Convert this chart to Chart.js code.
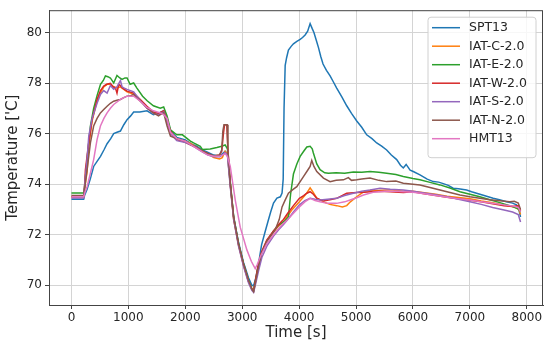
<!DOCTYPE html>
<html>
<head>
<meta charset="utf-8">
<script src="https://cdn.jsdelivr.net/npm/chart.js@4.4.0/dist/chart.umd.min.js"></script>
<style>
  html, body { margin: 0; padding: 0; background: #fff; }
</style>
</head>
<body>
<canvas id="chart" width="550" height="348"></canvas>
<script>
// ── data (time [s], temperature [°C]) ──
const seriesNames = ['SPT13', 'IAT-C-2.0', 'IAT-E-2.0', 'IAT-W-2.0', 'IAT-S-2.0', 'IAT-N-2.0', 'HMT13'];
const xTicks = [0, 1000, 2000, 3000, 4000, 5000, 6000, 7000, 8000];
const yTicks = [70, 72, 74, 76, 78, 80];

const spt13 = [[0,73.4],[215,73.4],[230,73.55],[275,73.8],[330,74.2],[390,74.7],[450,74.9],[510,75.1],[570,75.35],[626,75.6],[690,75.8],[742,76.0],[800,76.05],[860,76.1],[920,76.35],[977,76.55],[1040,76.7],[1093,76.85],[1200,76.85],[1327,76.9],[1440,76.75],[1520,76.8],[1620,76.9],[1680,76.6],[1740,76.1],[1850,75.85],[2000,75.75],[2100,75.6],[2200,75.5],[2300,75.35],[2400,75.25],[2500,75.15],[2600,75.1],[2650,75.2],[2700,75.3],[2740,75.2],[2790,74.0],[2850,72.7],[2935,71.7],[3023,70.9],[3110,70.3],[3170,70.0],[3200,69.98],[3240,70.3],[3290,70.9],[3340,71.6],[3400,72.1],[3450,72.5],[3500,72.9],[3550,73.25],[3610,73.45],[3670,73.5],[3700,73.65],[3720,74.2],[3735,77.0],[3755,78.7],[3780,79.0],[3812,79.3],[3860,79.45],[3900,79.55],[3960,79.65],[4018,79.73],[4060,79.8],[4105,79.9],[4150,80.05],[4193,80.35],[4230,80.15],[4260,80.0],[4300,79.7],[4340,79.4],[4380,79.05],[4420,78.75],[4480,78.5],[4544,78.28],[4600,78.05],[4660,77.8],[4750,77.45],[4836,77.1],[4920,76.8],[5012,76.5],[5100,76.25],[5187,75.95],[5280,75.8],[5363,75.63],[5450,75.5],[5538,75.35],[5620,75.15],[5714,74.97],[5780,74.75],[5830,74.64],[5880,74.78],[5950,74.55],[6005,74.5],[6123,74.37],[6250,74.2],[6356,74.1],[6450,74.08],[6532,74.02],[6620,73.95],[6707,73.84],[6800,73.82],[6942,73.77],[7030,73.7],[7117,73.64],[7250,73.55],[7409,73.44],[7520,73.38],[7644,73.3],[7750,73.25],[7819,73.18],[7860,73.0],[7890,72.7]];

const iatC = [[0,73.5],[215,73.5],[230,73.8],[275,74.5],[304,75.5],[363,76.5],[450,77.3],[510,77.6],[567,77.85],[626,77.95],[684,77.95],[742,77.85],[800,77.8],[860,77.85],[920,77.75],[977,77.65],[1093,77.55],[1210,77.3],[1327,77.05],[1440,76.8],[1540,76.75],[1620,76.85],[1680,76.5],[1740,76.05],[1850,75.8],[2000,75.7],[2100,75.6],[2200,75.45],[2300,75.3],[2400,75.2],[2500,75.05],[2600,75.0],[2650,75.05],[2700,75.3],[2740,75.2],[2790,74.0],[2850,72.6],[2935,71.6],[3023,70.8],[3110,70.15],[3170,69.85],[3200,69.8],[3240,70.2],[3290,70.8],[3345,71.3],[3433,71.75],[3550,72.1],[3640,72.35],[3725,72.5],[3800,72.75],[3880,73.0],[4005,73.3],[4080,73.5],[4135,73.65],[4193,73.85],[4240,73.7],[4310,73.45],[4427,73.3],[4540,73.2],[4660,73.15],[4760,73.1],[4836,73.15],[4900,73.3],[4953,73.4],[5070,73.6],[5150,73.72],[5246,73.75],[5400,73.75],[5600,73.78],[5830,73.72],[6000,73.72],[6200,73.66],[6400,73.6],[6600,73.52],[6800,73.47],[7000,73.42],[7200,73.33],[7400,73.26],[7600,73.18],[7750,73.12],[7860,73.0],[7890,72.8]];

const iatE = [[0,73.65],[215,73.65],[230,73.9],[275,75.0],[333,76.3],[390,77.0],[450,77.5],[510,77.95],[560,78.1],[597,78.28],[640,78.25],[684,78.2],[742,78.0],[800,78.3],[850,78.2],[889,78.14],[940,78.2],[977,78.2],[1030,77.95],[1093,78.0],[1150,77.8],[1250,77.48],[1330,77.3],[1440,77.1],[1500,77.05],[1560,77.0],[1620,77.05],[1680,76.7],[1740,76.15],[1850,75.95],[1950,75.95],[2090,75.7],[2146,75.63],[2263,75.5],[2300,75.37],[2438,75.39],[2555,75.45],[2640,75.5],[2700,75.55],[2740,75.4],[2790,74.1],[2850,72.7],[2935,71.65],[3023,70.85],[3110,70.2],[3170,69.85],[3200,69.78],[3240,70.25],[3290,70.85],[3345,71.3],[3433,71.75],[3550,72.15],[3650,72.4],[3750,72.55],[3812,72.7],[3850,73.6],[3900,74.4],[3960,74.8],[4018,75.1],[4080,75.3],[4135,75.47],[4193,75.5],[4230,75.4],[4250,75.23],[4310,74.8],[4368,74.57],[4450,74.45],[4514,74.43],[4650,74.45],[4800,74.43],[4953,74.48],[5100,74.47],[5246,74.5],[5400,74.47],[5538,74.43],[5700,74.38],[5830,74.3],[6000,74.22],[6123,74.17],[6300,74.07],[6474,73.97],[6650,73.85],[6825,73.7],[7000,73.6],[7175,73.5],[7350,73.38],[7526,73.27],[7700,73.15],[7819,73.05],[7860,73.0],[7890,72.9]];

const iatW = [[0,73.5],[215,73.5],[230,73.9],[245,74.57],[304,75.63],[363,76.56],[450,77.35],[510,77.7],[567,77.88],[620,77.95],[684,77.99],[730,77.85],[772,77.81],[800,77.6],[830,77.95],[860,77.9],[889,77.81],[930,77.75],[977,77.68],[1093,77.6],[1210,77.35],[1327,77.08],[1440,76.85],[1530,76.8],[1620,76.9],[1680,76.55],[1737,76.1],[1850,75.76],[1950,75.7],[2090,75.56],[2200,75.45],[2300,75.3],[2400,75.2],[2500,75.1],[2600,75.15],[2640,75.3],[2670,76.0],[2690,76.35],[2730,76.35],[2745,75.5],[2790,74.0],[2850,72.65],[2935,71.6],[3023,70.8],[3110,70.15],[3170,69.85],[3200,69.78],[3240,70.3],[3290,70.9],[3345,71.35],[3433,71.8],[3550,72.15],[3640,72.4],[3725,72.6],[3800,72.85],[3900,73.15],[4005,73.44],[4080,73.55],[4135,73.64],[4193,73.7],[4250,73.6],[4310,73.44],[4427,73.33],[4540,73.38],[4660,73.44],[4760,73.55],[4836,73.64],[5012,73.67],[5150,73.68],[5246,73.7],[5400,73.72],[5600,73.7],[5830,73.67],[6000,73.7],[6200,73.62],[6400,73.55],[6600,73.48],[6800,73.42],[7000,73.36],[7200,73.3],[7400,73.22],[7600,73.15],[7750,73.12],[7850,73.15],[7890,72.95]];

const iatS = [[0,73.45],[215,73.45],[230,73.9],[275,75.0],[304,75.9],[363,76.6],[450,77.2],[509,77.55],[567,77.7],[626,77.6],[684,77.9],[742,77.75],[800,77.85],[860,78.1],[889,77.85],[930,77.8],[977,77.75],[1093,77.65],[1210,77.3],[1327,77.0],[1440,76.8],[1530,76.75],[1620,76.85],[1680,76.5],[1740,76.0],[1850,75.72],[2000,75.65],[2100,75.55],[2200,75.42],[2300,75.28],[2400,75.15],[2500,75.08],[2600,75.08],[2650,75.15],[2700,75.25],[2740,75.15],[2790,73.9],[2850,72.6],[2935,71.55],[3023,70.75],[3110,70.1],[3170,69.8],[3200,69.72],[3240,70.1],[3290,70.6],[3345,71.1],[3433,71.55],[3550,71.95],[3640,72.2],[3725,72.4],[3800,72.6],[3900,72.9],[4005,73.18],[4100,73.35],[4193,73.44],[4280,73.4],[4368,73.37],[4500,73.4],[4660,73.44],[4800,73.55],[4953,73.64],[5100,73.72],[5246,73.77],[5420,73.84],[5600,73.8],[5830,73.77],[6000,73.72],[6200,73.65],[6400,73.58],[6600,73.5],[6800,73.4],[7000,73.3],[7200,73.2],[7400,73.08],[7600,72.98],[7750,72.9],[7850,72.8],[7890,72.5]];

const iatN = [[0,73.55],[215,73.55],[230,73.8],[275,74.57],[333,75.63],[390,76.3],[450,76.6],[509,76.82],[567,76.95],[626,77.08],[684,77.2],[742,77.28],[800,77.32],[860,77.35],[920,77.42],[977,77.48],[1040,77.5],[1093,77.55],[1150,77.41],[1250,77.2],[1330,77.0],[1440,76.82],[1530,76.7],[1561,76.75],[1620,76.82],[1680,76.3],[1740,75.9],[1850,75.8],[2000,75.7],[2100,75.55],[2200,75.45],[2300,75.3],[2400,75.2],[2500,75.12],[2600,75.15],[2640,75.35],[2660,76.1],[2680,76.35],[2735,76.35],[2750,75.3],[2790,74.05],[2850,72.7],[2935,71.65],[3023,70.85],[3110,70.2],[3170,69.85],[3200,69.75],[3240,70.2],[3290,70.8],[3345,71.3],[3433,71.75],[3500,71.95],[3580,72.2],[3650,72.6],[3700,73.1],[3750,73.35],[3812,73.64],[3900,73.8],[3959,73.9],[4076,74.3],[4150,74.55],[4193,74.7],[4222,74.94],[4260,74.7],[4310,74.5],[4427,74.24],[4544,74.1],[4650,74.15],[4778,74.17],[4865,74.26],[4920,74.15],[5012,74.17],[5100,74.2],[5246,74.24],[5400,74.15],[5538,74.1],[5700,74.12],[5830,74.04],[6000,74.0],[6123,73.97],[6300,73.87],[6474,73.77],[6650,73.67],[6825,73.57],[7000,73.5],[7175,73.44],[7350,73.38],[7526,73.34],[7700,73.3],[7780,73.32],[7850,73.25],[7890,73.0]];

const hmt13 = [[0,73.5],[215,73.5],[240,73.7],[275,73.9],[330,74.4],[390,74.97],[450,75.76],[509,76.3],[570,76.6],[626,76.82],[684,77.0],[742,77.15],[800,77.25],[860,77.35],[920,77.42],[977,77.48],[1093,77.48],[1210,77.28],[1320,77.05],[1440,76.9],[1561,76.82],[1620,76.75],[1680,76.6],[1740,76.05],[1850,75.8],[2000,75.7],[2100,75.55],[2200,75.42],[2300,75.28],[2400,75.15],[2500,75.1],[2600,75.1],[2650,75.15],[2700,75.2],[2740,75.1],[2790,74.7],[2877,73.38],[2965,72.3],[3082,71.4],[3160,70.95],[3228,70.66],[3260,70.8],[3316,71.12],[3433,71.65],[3550,72.0],[3640,72.25],[3725,72.45],[3800,72.6],[3900,72.85],[4005,73.1],[4100,73.3],[4193,73.44],[4280,73.35],[4368,73.3],[4500,73.24],[4660,73.24],[4800,73.3],[4895,73.37],[5000,73.45],[5130,73.57],[5300,73.68],[5500,73.72],[5700,73.72],[5830,73.7],[6000,73.68],[6200,73.62],[6400,73.55],[6600,73.48],[6800,73.42],[7000,73.37],[7200,73.3],[7400,73.24],[7600,73.18],[7750,73.14],[7850,73.08],[7890,72.9]];

const seriesData = [spt13, iatC, iatE, iatW, iatS, iatN, hmt13];
const seriesColors = ['#1f77b4', '#ff7f0e', '#2ca02c', '#d62728', '#9467bd', '#8c564b', '#e377c2'];

const FONT = "'DejaVu Sans', sans-serif";
const INK = '#262626';

// top + right spines (chart.js only draws left/bottom)
const frame = {
  id: 'frame',
  afterDatasetsDraw(chart) {
    const { ctx, chartArea: a } = chart;
    ctx.save();
    ctx.strokeStyle = '#444';
    ctx.lineWidth = 1;
    ctx.strokeRect(a.left + 0.5, a.top + 0.5, a.right - a.left - 1, a.bottom - a.top);
    ctx.restore();
  }
};

// legend inside the plot, upper right, like matplotlib
const innerLegend = {
  id: 'innerLegend',
  afterDraw(chart) {
    const { ctx, chartArea: a } = chart;
    const w = 108, rowH = 18.5;
    const h = seriesNames.length * rowH + 11;
    const x0 = a.right - 7 - w, y0 = a.top + 7;
    ctx.save();
    ctx.beginPath();
    ctx.roundRect(x0, y0, w, h, 3);
    ctx.fillStyle = 'rgba(255,255,255,0.8)';
    ctx.fill();
    ctx.strokeStyle = '#d0d0d0';
    ctx.lineWidth = 1;
    ctx.stroke();
    ctx.font = '12.5px ' + FONT;
    ctx.textBaseline = 'middle';
    seriesNames.forEach((name, i) => {
      const cy = y0 + 10.5 + i * rowH;
      ctx.strokeStyle = seriesColors[i];
      ctx.lineWidth = 1.5;
      ctx.beginPath();
      ctx.moveTo(x0 + 4, cy);
      ctx.lineTo(x0 + 32, cy);
      ctx.stroke();
      ctx.fillStyle = INK;
      ctx.fillText(name, x0 + 41, cy + 0.5);
    });
    ctx.restore();
  }
};

new Chart(document.getElementById('chart'), {
  type: 'line',
  data: {
    datasets: seriesNames.map((name, i) => ({
      label: name,
      data: seriesData[i].map(([t, v]) => ({ x: t, y: v })),
      borderColor: seriesColors[i],
      backgroundColor: seriesColors[i],
      borderWidth: 1.5,
      pointRadius: 0,
      tension: 0,
      fill: false,
      order: seriesNames.length - i
    }))
  },
  options: {
    responsive: false,
    animation: false,
    layout: { padding: { left: 0, top: 10, right: 7, bottom: 0 } },
    plugins: { legend: { display: false }, tooltip: { enabled: false } },
    scales: {
      x: {
        type: 'linear',
        min: -394.5,
        max: 8284.5,
        afterBuildTicks: s => { s.ticks = xTicks.map(v => ({ value: v })); },
        afterFit: s => { s.height = 43; },
        grid: { color: '#d4d4d4', lineWidth: 1, tickLength: 4, tickColor: '#444' },
        border: { color: '#444', width: 1 },
        ticks: { color: INK, font: { family: FONT, size: 12 }, padding: 2, maxRotation: 0, callback: v => String(v) },
        title: { display: true, text: 'Time [s]', color: INK, font: { family: FONT, size: 15 }, padding: { top: 0, bottom: 6 } }
      },
      y: {
        min: 69.22,
        max: 80.88,
        afterBuildTicks: s => { s.ticks = yTicks.map(v => ({ value: v })); },
        afterFit: s => { s.width = 49; },
        grid: { color: '#d4d4d4', lineWidth: 1, tickLength: 4, tickColor: '#444' },
        border: { color: '#444', width: 1 },
        ticks: { color: INK, font: { family: FONT, size: 12 }, padding: 3, callback: v => String(v) },
        title: { display: true, text: "Temperature ['C]", color: INK, font: { family: FONT, size: 15 }, padding: { top: 4, bottom: 0 } }
      }
    }
  },
  plugins: [frame, innerLegend]
});
</script>
</body>
</html>
